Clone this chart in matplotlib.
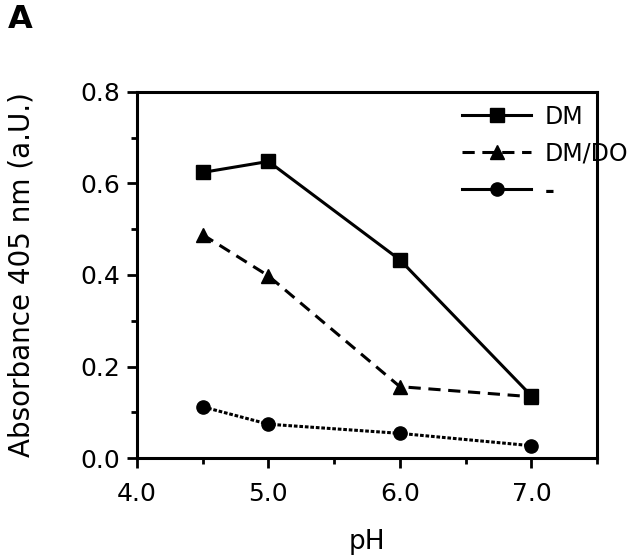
import numpy as np
import matplotlib.pyplot as plt
from matplotlib.lines import Line2D

plt.rcParams['font.family'] = ['DejaVu Sans']

ph = np.array([4.5, 5.0, 6.0, 7.0])
dm = np.array([0.624, 0.648, 0.433, 0.136])
dmdo = np.array([0.488, 0.398, 0.156, 0.134])
ctrl = np.array([0.112, 0.074, 0.054, 0.027])

labels = ['DM', 'DM/DO', '-']
xticks = [4.0, 5.0, 6.0, 7.0]
yticks = [0.0, 0.2, 0.4, 0.6, 0.8]

fig = plt.figure(figsize=(6.4, 5.6), dpi=100)
ax = fig.add_axes([0.214, 0.182, 0.719, 0.654])

ax.plot(ph, dm, '-s', color='black', lw=2.2, ms=9.5)
ax.plot(ph, dmdo, '--^', color='black', lw=2.2, ms=10, dashes=(4, 2.5))
ax.plot(ph, ctrl, ':o', color='black', lw=2.2, ms=9.5, dashes=(1.2, 0.6))

ax.set_xlim(4.0, 7.5)
ax.set_ylim(0.0, 0.8)
ax.set_xticks(xticks)
ax.set_xticklabels(['%.1f' % v for v in xticks])
ax.set_xticks([4.5, 5.5, 6.5, 7.5], minor=True)
ax.set_yticks(yticks)
ax.set_yticklabels(['%.1f' % v for v in yticks])
ax.set_yticks([0.1, 0.3, 0.5, 0.7], minor=True)
ax.tick_params(which='major', direction='out', length=7, width=2, labelsize=18, pad=5)
ax.tick_params(axis='x', which='major', pad=10)
ax.tick_params(which='minor', direction='out', length=4, width=2)
for s in ax.spines.values():
    s.set_linewidth(2.2)

ax.set_xlabel('pH', fontsize=19, labelpad=17)
ax.set_ylabel('Absorbance 405 nm (a.U.)', fontsize=20, labelpad=32)

# legend uses solid line for the third entry, as in the original
handles = [Line2D([], [], color='black', marker='s', ls='-', lw=2.2, ms=9.5),
           Line2D([], [], color='black', marker='^', ls='--', lw=2.2, ms=10, dashes=(4, 2.5)),
           Line2D([], [], color='black', marker='o', ls='-', lw=2.2, ms=9.5)]
leg = ax.legend(handles, labels, loc='upper left', bbox_to_anchor=(0.707, 0.965),
                frameon=False, fontsize=17, handlelength=2.9, handletextpad=0.6,
                labelspacing=0.55, borderpad=0, borderaxespad=0)
leg.get_texts()[2].set_fontweight('bold')

fig.text(0.012, 0.95, 'A', fontsize=23, fontweight='bold')

fig.savefig('out.png', dpi=100)
